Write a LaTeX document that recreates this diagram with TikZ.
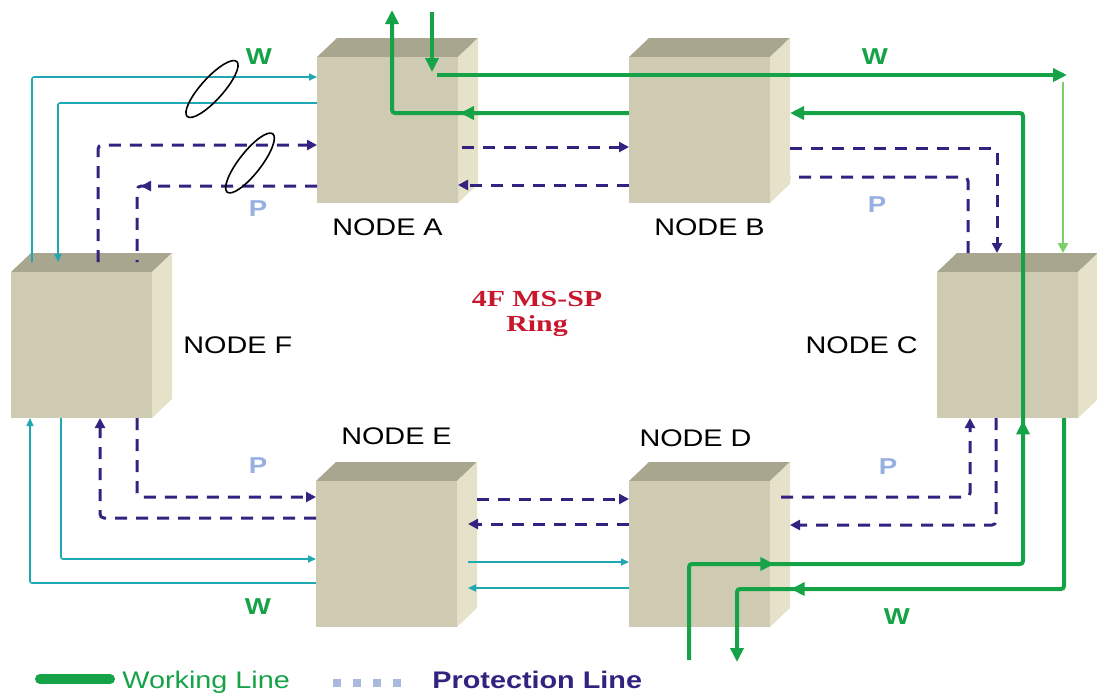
\documentclass[tikz,border=0pt]{standalone}
\usepackage{fontspec}
\setmainfont{Liberation Sans}[FakeStretch=1.2]
\newfontfamily\ringfont{Liberation Serif}[FakeStretch=1.3]
\usetikzlibrary{positioning, calc, arrows.meta, decorations.markings, shapes.geometric}
\definecolor{work}{RGB}{22,163,72}
\definecolor{worklt}{RGB}{125,205,105}
\definecolor{wcyan}{RGB}{32,168,178}
\definecolor{prot}{RGB}{52,34,128}
\definecolor{plabel}{RGB}{150,176,226}
\definecolor{ringred}{RGB}{200,22,44}
\definecolor{legsq}{RGB}{170,186,222}
\definecolor{cubefront}{RGB}{207,203,179}
\definecolor{cubetop}{RGB}{168,166,143}
\definecolor{cubeside}{RGB}{229,226,201}
\tikzset{
  wtip/.tip={Triangle[length=7pt,width=6.5pt]},
  ctip/.tip={Triangle[length=4pt,width=3.5pt]},
  ptip/.tip={Triangle[length=5pt,width=5pt]},
  face/.style={draw=none,fill=cubefront,minimum width=70.5pt,minimum height=73pt,
    inner sep=0pt,outer sep=0pt},
  wline/.style={draw=work,line width=2pt,rounded corners=1.5pt},
  wthin/.style={draw=worklt,line width=1.2pt},
  cline/.style={draw=wcyan,line width=0.8pt,rounded corners=1pt},
  pline/.style={draw=prot,line width=1.5pt,dash pattern=on 6pt off 4.5pt,rounded corners=2pt},
  wmid/.style={postaction={decorate,decoration={markings,
    mark=at position #1 with {\arrow{wtip}}}}},
  pmid/.style={postaction={decorate,decoration={markings,
    mark=at position #1 with {\arrow{ptip}}}}},
  ring/.style={draw=black,line width=0.8pt,ellipse,minimum width=37pt,
    minimum height=11pt,inner sep=0pt},
  nodelbl/.style={font=\fontsize{12}{14}\selectfont,inner sep=0pt},
  wlbl/.style={font=\fontsize{11.5}{14}\selectfont\bfseries,text=work,inner sep=0pt},
  plbl/.style={font=\fontsize{11.5}{14}\selectfont\bfseries,text=plabel,inner sep=0pt},
  legtxt/.style={font=\fontsize{12}{14}\selectfont,inner sep=0pt,anchor=base west},
}
% cube: name, left and top of the front face
\newcommand\cubenode[3]{%
  \fill[cubetop] (#2,#3) -- ++(20,-19) -- ++(141,0) -- ++(-20,19) -- cycle;
  \fill[cubeside] (#2+141,#3) -- ++(20,-19) -- ++(0,146) -- ++(-20,19) -- cycle;
  \node[face] (#1) at (#2+70.5,#3+73) {};
  \coordinate (#1-back) at (#2+90,#3-19);
  \coordinate (#1-top) at (#2+80,#3-10);
  \coordinate (#1-rim) at (#2+152,#3+73);
  \coordinate (#1-out) at (#2+161,#3+73);
}

\begin{document}
\begin{tikzpicture}[x=0.5pt,y=-0.5pt]
  \useasboundingbox (0,0) rectangle (1097,698);
  % six nodes of the ring
  \cubenode{A}{317}{57}
  \cubenode{B}{629}{57}
  \cubenode{C}{937}{272}
  \cubenode{F}{11}{272}
  \cubenode{E}{316}{481}
  \cubenode{D}{629}{481}
  \node[nodelbl,below=7.5pt of A] (la) {NODE A};
  \node[nodelbl,below=7.5pt of B,xshift=5pt] (lb) {NODE B};
  \node[nodelbl,left=9.5pt of C] (lc) {NODE C};
  \node[nodelbl,right=15.5pt of F] (lf) {NODE F};
  \node[nodelbl,above=18pt of E,xshift=5pt] (le) {NODE E};
  \node[nodelbl,above=17pt of D,xshift=-2pt] (ld) {NODE D};
  \node[font=\ringfont\bfseries\fontsize{11.5}{12.5}\selectfont,text=ringred,
    align=center,inner sep=0pt,anchor=north] (title) at (537,291) {4F MS-SP\\Ring};

  % F -- A
  \draw[cline,-{ctip}] (F-top -| 32,0) -- (32,77) -- (A.west |- 0,77);
  \draw[cline,-{ctip}] (A.west |- 0,103) -- (58,103) -- (F-top -| 58,0);
  \draw[pline,-{ptip}] (F-top -| 98,0) -- (98,145) -- (A.west |- 0,145);
  \draw[pline,pmid=88pt] (A.west |- 0,186) -- (137,186) -- (F-top -| 137,0);
  \node[ring,rotate=48] (wring) at (212,89) {};
  \node[ring,rotate=52] (pring) at (250,163) {};

  % A -- B -- C, working
  \coordinate (upA) at (392,10);
  \coordinate (downA) at (432,12);
  \coordinate (wNE) at (1067,75);
  \draw[wline,-{wtip},wmid=84.5pt] (B.west |- 0,113) -- (upA |- 0,113) -- (upA);
  \draw[wline,-{wtip}] (downA) -- (downA |- 0,72);
  \draw[wline,-{wtip}] (downA |- 0,75) ++(5,0) -- (wNE);
  \draw[wthin,-{Triangle[length=5pt,width=5pt]}] (wNE) ++(-4,7) -- (C-back -| 1063,0);

  % A -- B, B -- C protection
  \draw[pline,-{ptip}] (A.east |- 0,147) ++(4,0) -- (B.west |- 0,147);
  \draw[pline,-{ptip}] (B.west |- 0,185) -- (A.east |- 0,185);
  \draw[pline,-{ptip}] (B-out |- 0,148) -- (997,148) -- (C-back -| 997,0);
  \draw[pline] (C-back -| 968,0) -- (968,177) -- (B-out |- 0,177);

  % C -- D working
  \coordinate (inD) at (689,660);
  \coordinate (outD) at (737,662);
  \draw[wline,-{wtip},wmid=90pt,wmid=285.5pt] (inD) -- (689,564) -- (1023,564)
    -- (1023,113) -- (B-out |- 0,113);
  \draw[wline,-{wtip},wmid=221.5pt] (C.south -| 1064,0) -- (1064,589)
    -- (outD |- 0,589) -- (outD);

  % C -- D protection
  \draw[pline,-{ptip}] (D-rim |- 0,497) -- (970,497) -- (C.south -| 970,0);
  \draw[pline,-{ptip}] (C.south -| 996,0) -- (996,525) -- (D-out |- 0,525);

  % D -- E
  \draw[pline,-{ptip}] (E-out |- 0,499) -- (D.west |- 0,499);
  \draw[pline,-{ptip}] (D.west |- 0,524) -- (E-rim |- 0,524);
  \draw[cline,-{ctip}] (E-rim |- 0,562) -- (D.west |- 0,562);
  \draw[cline,-{ctip}] (D.west |- 0,588) -- (E-rim |- 0,588);

  % F -- E
  \draw[cline,-{ctip}] (F.south -| 61,0) -- (61,559) -- (E.west |- 0,559);
  \draw[cline,-{ctip}] (E.west |- 0,583) -- (30,583) -- (F.south -| 30,0);
  \draw[pline,-{ptip}] (F.south -| 137,0) -- (137,497) -- (E.west |- 0,497);
  \draw[pline,-{ptip}] (E.west |- 0,518) -- (100,518) -- (F.south -| 100,0);

  % W / P marks
  \node[wlbl] (wtl) at (259,57) {W};
  \node[wlbl] (wtr) at (875,57) {W};
  \node[wlbl] (wbl) at (258,607) {W};
  \node[wlbl] (wbr) at (897,617) {W};
  \node[plbl] (ptl) at (258,209) {P};
  \node[plbl] (ptr) at (877,205) {P};
  \node[plbl] (pbl) at (258,466) {P};
  \node[plbl] (pbr) at (888,467) {P};

  % legend
  \draw[work,line width=5pt,line cap=round] (40,679) -- (110,679);
  \node[legtxt,text=work] (legw) at (122,688) {Working Line};
  \draw[legsq,line width=4pt,dash pattern=on 4pt off 6pt] (333,683) -- (404,683);
  \node[legtxt,text=prot,font=\fontsize{12}{14}\selectfont\bfseries] (legp)
    at (432,688) {Protection Line};
\end{tikzpicture}
\end{document}
